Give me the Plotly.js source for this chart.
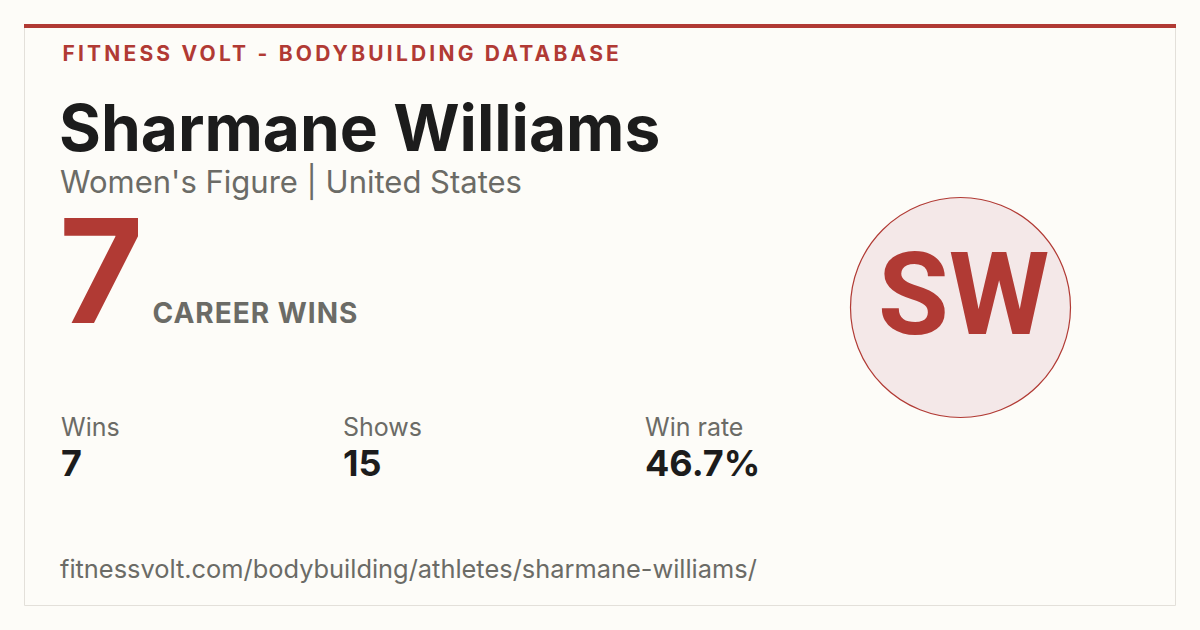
<!DOCTYPE html>
<html>
<head>
<meta charset="utf-8">
<script src="https://cdn.plot.ly/plotly-3.0.1.min.js"></script>
<style>
  html, body { margin: 0; padding: 0; background: #fdfcf8; }
  #chart { width: 1200px; height: 630px; }
  .annotation[data-index="0"] text { letter-spacing: 3.2px; }
  .annotation[data-index="4"] text { letter-spacing: 1px; }
</style>
</head>
<body>
<div id="chart"></div>
<script>
// ---- data ----
const siteTitle = "FITNESS VOLT - BODYBUILDING DATABASE";
const athleteName = "Sharmane Williams";
const division = "Women's Figure";
const country = "United States";
const careerWins = 7;
const careerLabel = "CAREER WINS";
const statLabels = ["Wins", "Shows", "Win rate"];
const statValues = ["7", "15", "46.7%"];
const initials = "SW";
const profileUrl = "fitnessvolt.com/bodybuilding/athletes/sharmane-williams/";

// ---- style ----
const RED = "#b13a34";
const DARK = "#1c1c1c";
const GRAY = "#6b6b66";
const FONT = "Inter, 'DejaVu Sans', sans-serif";
const statX = [60, 342, 644];

const ann = (text, x, y, size, color, weight, extra) => Object.assign({
  text: text, x: x, y: y, xref: "x", yref: "y",
  xanchor: "left", yanchor: "middle", showarrow: false, borderpad: 0,
  font: { family: FONT, size: size, color: color, weight: weight }
}, extra || {});

const annotations = [
  ann(siteTitle, 342, 53.5, 21, RED, 700, { xanchor: "center" }),
  ann(athleteName, 58, 127.5, 64, DARK, 700),
  ann(division + " | " + country, 59, 182, 31, GRAY, 400),
  ann(String(careerWins), 58, 270.5, 145, RED, 700),
  ann(careerLabel, 255.5, 312.5, 28, GRAY, 700, { xanchor: "center" }),
];
statLabels.forEach((lab, i) => {
  annotations.push(ann(lab, statX[i], 427, 25, GRAY, 400));
  annotations.push(ann(statValues[i], statX[i], 462.5, 36, DARK, 700));
});
annotations.push(ann(profileUrl, 59, 568.5, 25.4, GRAY, 400));
annotations.push(ann(initials, 963, 294, 115, RED, 700,
  { xanchor: "center", font: { family: "Roboto, 'Liberation Sans', sans-serif", size: 115, color: RED, weight: 700 } }));

const shapes = [
  { type: "rect", xref: "x", yref: "y", x0: 24.5, x1: 1175.5, y0: 26, y1: 605.5,
    line: { color: "#e3e0da", width: 1 }, fillcolor: "#fdfcf8", layer: "below" },
  { type: "rect", xref: "x", yref: "y", x0: 24, x1: 1176, y0: 24, y1: 28,
    line: { width: 0 }, fillcolor: RED, layer: "below" },
  { type: "circle", xref: "x", yref: "y", x0: 850.5, x1: 1070.5, y0: 197.5, y1: 417.5,
    line: { color: RED, width: 1.2 }, fillcolor: "#f4e8e8", layer: "below" }
];

const layout = {
  width: 1200, height: 630,
  margin: { l: 0, r: 0, t: 0, b: 0 },
  paper_bgcolor: "#fdfcf8", plot_bgcolor: "#fdfcf8",
  xaxis: { range: [0, 1200], visible: false, fixedrange: true },
  yaxis: { range: [630, 0], visible: false, fixedrange: true },
  showlegend: false,
  annotations: annotations,
  shapes: shapes
};

Plotly.newPlot("chart", [], layout, { staticPlot: true, displayModeBar: false });
</script>
</body>
</html>
